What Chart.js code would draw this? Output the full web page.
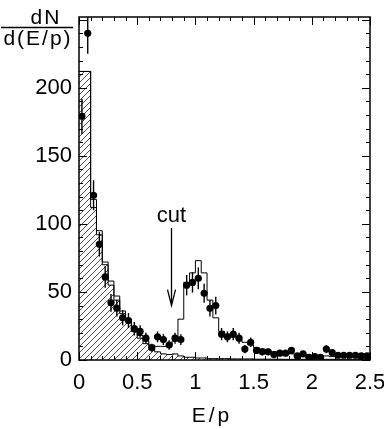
<!DOCTYPE html>
<html><head><meta charset="utf-8">
<script src="https://cdn.jsdelivr.net/npm/chart.js@4.4.0/dist/chart.umd.min.js"></script>
<style>html,body{margin:0;padding:0;background:#fff;}#wrap{width:384px;height:429px;}</style>
</head><body><div id="wrap"><canvas id="c" width="384" height="429"></canvas></div>
<script>
// ---- data ----
const binWidth = 0.05;
const nBins = 50;
const hatchedCounts = [212,212,112,92,70,55,44,34,28,21, 16,12,9,6,4.5,4,4.5,3,2,2, 1.5,1.5,1,1,1,1,0.8,0.8,0.8,0.8, 0.6,0.6,0.6,0.6,0.6,0.5,0.5,0.5,0.5,0.5, 0.5,0.5,0.5,0.5,0.5,0.5,0.5,0.5,0.5,0.5];
const totalCounts = [212,212,118,95,72,58,47,36,30,23, 18,14,11,10,10,11,14,30,57,64, 73,64,44,31,21,19,17,15,13,11, 9,8,7,6,5.5,5,4.5,4,4,3.5, 3,3,3,2.5,2.5,2.5,2,2,2,2];
const dataCounts = [179,240,121,85,61,42,38,31,29,23, 21,16,9,17,15,11,16,15,55,57, 60,49,38,40,19,17,19,16,8,13, 7,6,6,4,5,5,7,3,4.5,2, 2.5,2,8,5.5,3.5,3.5,3.5,3.5,3,3];
const dataErrors = [13,15,11,9,8,6.5,6,5.5,5.5,5, 4.5,4,3,4,4,3.5,4,4,7.5,7.5, 8,7,6,6.5,4.5,4,4.5,4,3,3.5, 2.5,2.5,2.5,2,2,2,2.5,1.5,2,1.5, 1.5,1.5,3,2.5,2,2,2,2,1.5,1.5];
const xTickValues = [0,0.5,1,1.5,2,2.5];
const xTickLabels = ['0','0.5','1','1.5','2','2.5'];
const yTickValues = [0,50,100,150,200];
const yTickLabels = ['0','50','100','150','200'];
const cutValue = 0.79;
const cutArrowTop = 97, cutArrowBottom = 40;

// ---- build datasets ----
const binStarts = Array.from({length:nBins},(_,i)=>+(i*binWidth).toFixed(3));
function histPoints(vals){
  const pts = binStarts.map((x,i)=>({x:x,y:vals[i]}));
  pts.push({x:+(nBins*binWidth).toFixed(3), y:vals[vals.length-1]});
  return pts;
}
const dataPoints = binStarts.map((x,i)=>({x:+(x+binWidth/2).toFixed(3), y:dataCounts[i], e:dataErrors[i]}));

function makeHatch(){
  const s=6, c=document.createElement('canvas'); c.width=s; c.height=s;
  const g=c.getContext('2d');
  g.strokeStyle='#000'; g.lineWidth=0.7;
  g.beginPath();
  g.moveTo(0,s); g.lineTo(s,0);
  g.moveTo(-1,1); g.lineTo(1,-1);
  g.moveTo(s-1,s+1); g.lineTo(s+1,s-1);
  g.stroke();
  return g.createPattern(c,'repeat');
}

const FONT = "'Liberation Sans', Arial, sans-serif";

const decor = {
  id:'decor',
  afterDatasetsDraw(chart){
    const ctx=chart.ctx, xs=chart.scales.x, ys=chart.scales.y;
    ctx.save(); ctx.strokeStyle='#000'; ctx.lineWidth=1.4;
    dataPoints.forEach(p=>{
      const px=xs.getPixelForValue(p.x);
      ctx.beginPath();
      ctx.moveTo(px, ys.getPixelForValue(Math.max(0,p.y-p.e)));
      ctx.lineTo(px, ys.getPixelForValue(Math.min(ys.max,p.y+p.e)));
      ctx.stroke();
    });
    ctx.restore();
  },
  afterDraw(chart){
    const ctx=chart.ctx, a=chart.chartArea, xs=chart.scales.x, ys=chart.scales.y;
    ctx.save();
    ctx.strokeStyle='#000'; ctx.lineWidth=1.5;
    ctx.strokeRect(a.left, a.top, a.right-a.left, a.bottom-a.top);
    ctx.lineWidth=1;
    for(let v=0; v<=ys.max; v+=10){
      const py=Math.round(ys.getPixelForValue(v))+0.5;
      const len = (v%50===0)?8:4;
      ctx.beginPath();
      ctx.moveTo(a.left,py); ctx.lineTo(a.left+len,py);
      ctx.moveTo(a.right,py); ctx.lineTo(a.right-len,py);
      ctx.stroke();
    }
    for(let i=0;i<=25;i++){
      const v=i*0.1;
      const px=Math.round(xs.getPixelForValue(v))+0.5;
      const len=(i%5===0)?8:4;
      ctx.beginPath();
      ctx.moveTo(px,a.bottom); ctx.lineTo(px,a.bottom-len);
      ctx.moveTo(px,a.top); ctx.lineTo(px,a.top+len);
      ctx.stroke();
    }
    const cx=Math.round(xs.getPixelForValue(cutValue))+0.5;
    const yt=ys.getPixelForValue(cutArrowTop), yb=ys.getPixelForValue(cutArrowBottom);
    ctx.lineWidth=1.3;
    ctx.beginPath();
    ctx.moveTo(cx,yt); ctx.lineTo(cx,yb);
    ctx.moveTo(cx-4,yb-16); ctx.lineTo(cx,yb); ctx.lineTo(cx+4,yb-16);
    ctx.stroke();
    ctx.fillStyle='#000';
    ctx.font="22px "+FONT;
    ctx.textAlign='center'; ctx.textBaseline='alphabetic';
    ctx.fillText('cut', cx, yt-6);
    ctx.font="21px "+FONT;
    ctx.letterSpacing='2px';
    ctx.textAlign='center';
    ctx.fillText('dN', 46, 24);
    ctx.fillText('d(E/p)', 38, 45);
    ctx.letterSpacing='0px';
    ctx.lineWidth=1.5;
    ctx.beginPath(); ctx.moveTo(1,27.5); ctx.lineTo(73,27.5); ctx.stroke();
    ctx.font="21px "+FONT;
    ctx.letterSpacing='3px';
    ctx.fillText('E/p', 212, 422);
    ctx.restore();
  }
};

new Chart(document.getElementById('c'), {
  type:'scatter',
  data:{datasets:[
    {type:'line', data:histPoints(hatchedCounts), stepped:'before', borderColor:'#000', borderWidth:1,
     backgroundColor:makeHatch(), fill:'origin', pointRadius:0, order:3},
    {type:'line', data:histPoints(totalCounts), stepped:'before', borderColor:'#000', borderWidth:1,
     fill:false, pointRadius:0, order:2},
    {type:'scatter', data:dataPoints, pointRadius:3.6, pointBackgroundColor:'#000', pointBorderColor:'#000',
     pointBorderWidth:0, showLine:false, order:1}
  ]},
  options:{
    responsive:false, animation:false, devicePixelRatio:1,
    layout:{padding:{top:17,right:14,left:0,bottom:0}},
    plugins:{legend:{display:false}, tooltip:{enabled:false}},
    scales:{
      x:{type:'linear', min:0, max:2.5,
         grid:{display:false, drawTicks:false}, border:{display:false},
         afterBuildTicks:s=>{s.ticks=xTickValues.map(v=>({value:v}));},
         ticks:{padding:10, color:'#000', maxRotation:0, autoSkip:false,
                font:{family:FONT, size:22},
                callback:(v)=>{const i=xTickValues.indexOf(v); return i>=0?xTickLabels[i]:'';}},
         afterFit:s=>{s.height=69; s.paddingLeft=0; s.paddingRight=0;}},
      y:{type:'linear', min:0, max:252,
         grid:{display:false, drawTicks:false}, border:{display:false},
         afterBuildTicks:s=>{s.ticks=yTickValues.map(v=>({value:v}));},
         ticks:{padding:7, color:'#000', font:{family:FONT, size:22},
                callback:(v)=>{const i=yTickValues.indexOf(v); return i>=0?yTickLabels[i]:'';}},
         afterFit:s=>{s.width=79; s.paddingTop=0; s.paddingBottom=0;}}
    }
  },
  plugins:[decor]
});
</script>
</body></html>
